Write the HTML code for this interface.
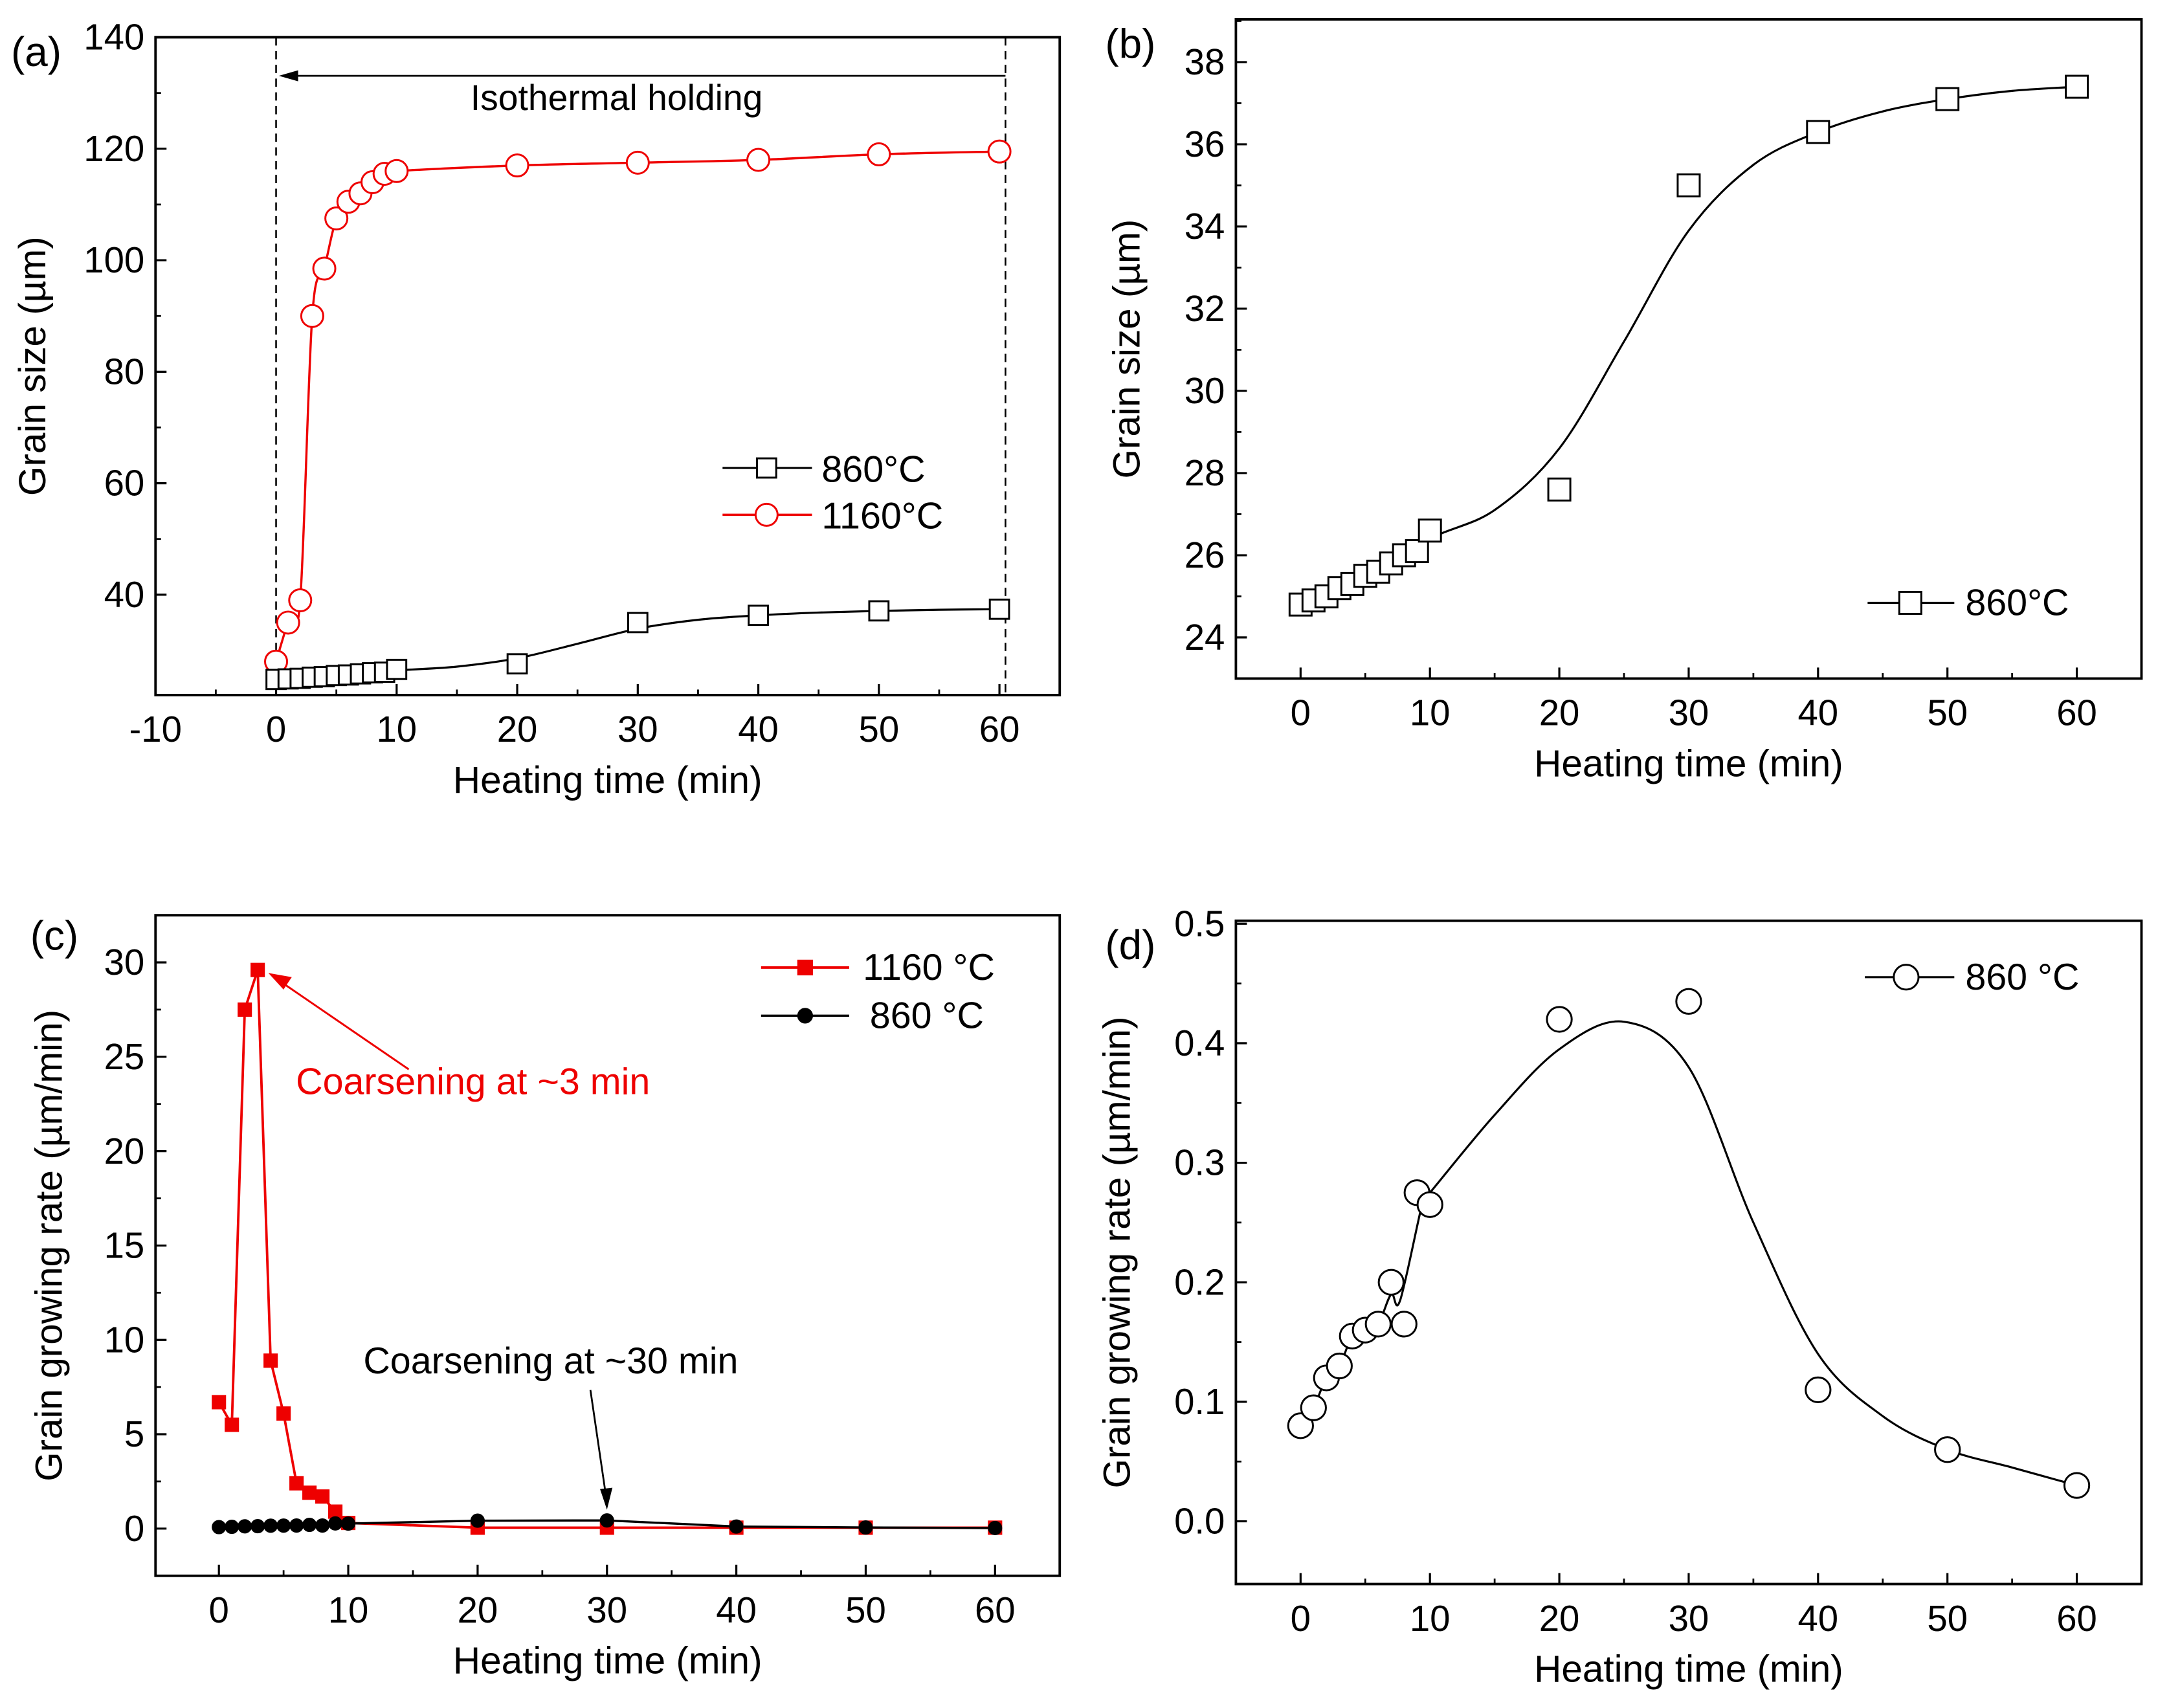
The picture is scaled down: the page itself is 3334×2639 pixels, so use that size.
<!DOCTYPE html>
<html><head><meta charset="utf-8"><style>
html,body{margin:0;padding:0;background:#fff}
svg{display:block}
text{font-family:"Liberation Sans",Arial,sans-serif}
</style></head><body>
<svg id="fig" width="3334" height="2639" viewBox="0 0 1568 1241" xmlns="http://www.w3.org/2000/svg">
<rect width="1568" height="1241" fill="#fff"/>
</svg>
<script>
// ---- data ----
const tA = [0,1,2,3,4,5,6,7,8,9,10,20,30,40,50,60];
const size1160 = [28,35,39,90,98.5,107.5,110.5,112,114,115.5,116,117,117.5,118,119,119.5];
const size860 = [24.8,24.9,25.0,25.2,25.3,25.5,25.6,25.8,26.0,26.1,26.6,27.6,35.0,36.3,37.1,37.4];
const fitT860 = [0,5,10,15,20,25,30,35,40,45,50,55,60];
const fitSize860 = [24.8,25.4,26.4,27.1,28.6,31.2,33.9,35.5,36.3,36.8,37.1,37.3,37.4];
const rate1160 = [6.7,5.5,27.5,29.6,8.9,6.1,2.4,1.9,1.7,0.9,0.3,0.05,0.05,0.05,0.05,0.05];
const rate860 = [0.08,0.095,0.12,0.13,0.155,0.16,0.165,0.2,0.165,0.275,0.265,0.42,0.435,0.11,0.06,0.03];
const fitTRate = [0,1,2,3,4,5,6,7,7.7,9.5,10,15,20,25,30,35,40,45,50,55,60];
const fitRate = [0.08,0.095,0.12,0.13,0.155,0.16,0.165,0.19,0.185,0.27,0.275,0.34,0.395,0.418,0.38,0.25,0.14,0.088,0.06,0.045,0.03];
const xTicksA = [-10,0,10,20,30,40,50,60];
const yTicksA = [40,60,80,100,120,140];
const xTicks = [0,10,20,30,40,50,60];
const yTicksB = [24,26,28,30,32,34,36,38];
const yTicksC = [0,5,10,15,20,25,30];
const yTicksD = [0.0,0.1,0.2,0.3,0.4,0.5];

const NS='http://www.w3.org/2000/svg';
const svg=document.getElementById('fig');
function el(tag,attrs,parent,txt){const e=document.createElementNS(NS,tag);for(const k in attrs)e.setAttribute(k,attrs[k]);if(txt!==undefined)e.textContent=txt;(parent||svg).appendChild(e);return e;}
function group(name){const g=el('g',{});


return g;}
function scale(d0,d1,r0,r1){return v=>r0+(v-d0)*(r1-r0)/(d1-d0);}
function smoothPath(pts){let d='M'+pts[0][0]+','+pts[0][1];for(let i=0;i<pts.length-1;i++){const p0=pts[Math.max(0,i-1)],p1=pts[i],p2=pts[i+1],p3=pts[Math.min(pts.length-1,i+2)];
const c1=[p1[0]+(p2[0]-p0[0])/6,p1[1]+(p2[1]-p0[1])/6],c2=[p2[0]-(p3[0]-p1[0])/6,p2[1]-(p3[1]-p1[1])/6];d+=` C${c1[0]},${c1[1]} ${c2[0]},${c2[1]} ${p2[0]},${p2[1]}`;}return d;}

function axes(p){
  const g=group(p.name);
  el('rect',{x:p.L,y:p.T,width:p.R-p.L,height:p.B-p.T,fill:'none',stroke:'#000','stroke-width':1.8},g);
  const xs=scale(p.xd[0],p.xd[1],p.L,p.R), ys=scale(p.yd[0],p.yd[1],p.B,p.T);
  p.xTicks.forEach(v=>{const x=xs(v);
    el('line',{x1:x,y1:p.B,x2:x,y2:p.B-8,stroke:'#000','stroke-width':1.5},g);
    const t=el('text',{x:x,y:p.B+34,'font-size':26.5,'text-anchor':'middle'},g,String(v));
    
    
    const m=x+(xs(p.xTicks[1])-xs(p.xTicks[0]))/2; if(m<p.R) el('line',{x1:m,y1:p.B,x2:m,y2:p.B-4,stroke:'#000','stroke-width':1.3},g);
  });
  p.yTicks.forEach((v,i)=>{const y=ys(v);
    el('line',{x1:p.L,y1:y,x2:p.L+8,y2:y,stroke:'#000','stroke-width':1.5},g);
    const t=el('text',{x:p.L-8,y:y+9,'font-size':26.5,'text-anchor':'end'},g,p.yFmt?p.yFmt(v):String(v));
    
    
    const m=y-(ys(p.yTicks[0])-ys(p.yTicks[1]))/2; if(m>p.T) el('line',{x1:p.L,y1:m,x2:p.L+4,y2:m,stroke:'#000','stroke-width':1.3},g);
  });
  const xt=el('text',{x:(p.L+p.R)/2,y:p.B+71,'font-size':27.5,'text-anchor':'middle'},g,'Heating time (min)');
  
  
  const yt=el('text',{x:0,y:0,'font-size':27.5,'text-anchor':'middle',transform:`translate(${p.ytx},${(p.T+p.B)/2+p.ytdy}) rotate(-90)`},g,p.ytitle);
  
  
  const pl=el('text',{x:p.lx,y:p.ly,'font-size':30},g,p.label);
  
  
  return {g,xs,ys};
}
function square(g,x,y,s,fill){const r=el('rect',{x:x-s/2,y:y-s/2,width:s,height:s,fill:fill||'#fff',stroke:'#000','stroke-width':1.4},g);

return r;}
function circle(g,x,y,r,stroke,fill){const c=el('circle',{cx:x,cy:y,r:r,fill:fill||'#fff',stroke:stroke,'stroke-width':1.4},g);

return c;}

// ---- panel a ----
let A=axes({name:'panel-a',L:113,R:770,T:27,B:505,xd:[-10,65],yd:[22,140],xTicks:xTicksA,yTicks:yTicksA,ytitle:'Grain size (µm)',ytx:33,ytdy:0,label:'(a)',lx:8,ly:48});
[0,60.5].forEach(v=>{const l=el('line',{x1:A.xs(v),y1:27,x2:A.xs(v),y2:505,stroke:'#000','stroke-width':1.2,'stroke-dasharray':'6,4'},A.g);

});
el('line',{x1:A.xs(60.5),y1:55,x2:A.xs(0)+12,y2:55,stroke:'#000','stroke-width':1.3},A.g);
el('path',{d:`M${A.xs(0)+2},55 l14,-4 l0,8 z`,fill:'#000'},A.g);
let it=el('text',{x:448,y:80,'font-size':26,'text-anchor':'middle'},A.g,'Isothermal holding');


el('path',{d:smoothPath(tA.map((t,i)=>[A.xs(t),A.ys(size1160[i])])),fill:'none',stroke:'#e00','stroke-width':1.6},A.g);
el('path',{d:smoothPath(fitT860.map((t,i)=>[A.xs(t),A.ys(fitSize860[i])])),fill:'none',stroke:'#000','stroke-width':1.5},A.g);
tA.forEach((t,i)=>circle(A.g,A.xs(t),A.ys(size1160[i]),8,'#e00'));
tA.forEach((t,i)=>square(A.g,A.xs(t),A.ys(size860[i]),14));
el('line',{x1:525,y1:340,x2:590,y2:340,stroke:'#000','stroke-width':1.5},A.g);square(A.g,557,340,14);
el('text',{x:597,y:350,'font-size':27},A.g,'860°C');
el('line',{x1:525,y1:374,x2:590,y2:374,stroke:'#e00','stroke-width':1.6},A.g);circle(A.g,557,374,8,'#e00');
el('text',{x:597,y:384,'font-size':27},A.g,'1160°C');

// ---- panel b ----
let B=axes({name:'panel-b',L:898,R:1556,T:14,B:493,xd:[-5,65],yd:[23,39.04],xTicks:xTicks,yTicks:yTicksB,ytitle:'Grain size (µm)',ytx:828,ytdy:0,label:'(b)',lx:803,ly:42});
el('path',{d:smoothPath(fitT860.map((t,i)=>[B.xs(t),B.ys(fitSize860[i])])),fill:'none',stroke:'#000','stroke-width':1.5},B.g);
tA.forEach((t,i)=>square(B.g,B.xs(t),B.ys(size860[i]),16));
el('line',{x1:1357,y1:438,x2:1420,y2:438,stroke:'#000','stroke-width':1.5},B.g);square(B.g,1388,438,16);
el('text',{x:1428,y:447,'font-size':27},B.g,'860°C');

// ---- panel c ----
let C=axes({name:'panel-c',L:113,R:770,T:665,B:1145,xd:[-4.9,65],yd:[-2.5,32.5],xTicks:xTicks,yTicks:yTicksC,ytitle:'Grain growing rate (µm/min)',ytx:45,ytdy:0,label:'(c)',lx:22,ly:690});
el('polyline',{points:tA.map((t,i)=>C.xs(t)+','+C.ys(rate1160[i])).join(' '),fill:'none',stroke:'#e00','stroke-width':1.8},C.g);
el('polyline',{points:tA.map((t,i)=>C.xs(t)+','+C.ys(rate860[i])).join(' '),fill:'none',stroke:'#000','stroke-width':1.6},C.g);
tA.forEach((t,i)=>square(C.g,C.xs(t),C.ys(rate1160[i]),9,'#e00').setAttribute('stroke','#e00'));
tA.forEach((t,i)=>circle(C.g,C.xs(t),C.ys(rate860[i]),4.5,'#000','#000'));
el('line',{x1:553,y1:703,x2:617,y2:703,stroke:'#e00','stroke-width':1.8},C.g);square(C.g,585,703,10,'#e00').setAttribute('stroke','#e00');
el('text',{x:627,y:712,'font-size':27},C.g,'1160 °C');
el('line',{x1:553,y1:738,x2:617,y2:738,stroke:'#000','stroke-width':1.6},C.g);circle(C.g,585,738,5,'#000','#000');
el('text',{x:632,y:747,'font-size':27},C.g,'860  °C');
el('line',{x1:297,y1:777,x2:205,y2:714,stroke:'#e00','stroke-width':1.4},C.g);
el('path',{d:'M195,707 l17,3 l-6,9 z',fill:'#e00'},C.g);
let ca=el('text',{x:215,y:795,'font-size':27,fill:'#e00'},C.g,'Coarsening at ~3 min');


let cb=el('text',{x:264,y:998,'font-size':27},C.g,'Coarsening at ~30 min');


el('line',{x1:429,y1:1010,x2:440,y2:1085,stroke:'#000','stroke-width':1.3},C.g);
el('path',{d:'M441,1097 l-5,-15 l9,-1 z',fill:'#000'},C.g);

// ---- panel d ----
let D=axes({name:'panel-d',L:898,R:1556,T:669,B:1151,xd:[-5,65],yd:[-0.0525,0.5025],xTicks:xTicks,yTicks:yTicksD,yFmt:v=>v.toFixed(1),ytitle:'Grain growing rate (µm/min)',ytx:821,ytdy:0,label:'(d)',lx:803,ly:697});
el('path',{d:smoothPath(fitTRate.map((t,i)=>[D.xs(t),D.ys(fitRate[i])])),fill:'none',stroke:'#000','stroke-width':1.5},D.g);
tA.forEach((t,i)=>circle(D.g,D.xs(t),D.ys(rate860[i]),9,'#000'));
el('line',{x1:1355,y1:710,x2:1420,y2:710,stroke:'#000','stroke-width':1.5},D.g);circle(D.g,1385,710,9,'#000');
el('text',{x:1428,y:719,'font-size':27},D.g,'860 °C');
</script>
</body></html>
